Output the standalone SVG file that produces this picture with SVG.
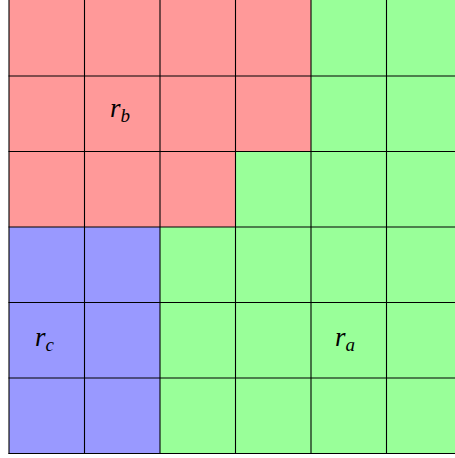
<svg xmlns="http://www.w3.org/2000/svg" width="455" height="458" viewBox="0 0 455 458">
<style>
.red{fill:#ff9999}
.green{fill:#99ff99}
.blue{fill:#9999ff}
.grid line{stroke:#000;stroke-width:1.1}
.lbl{font-family:"Liberation Serif",serif;font-style:italic;font-size:27px;fill:#000}
.sub{font-size:19px}
</style>
<rect width="455" height="458" fill="#fff"/>
<g id="region-b">
<path class="red" d="M9,-1 H311 V151.5 H235.5 V227 H9 Z"/>
<text class="lbl" x="110" y="117">r<tspan class="sub" dy="5">b</tspan></text>
</g>
<g id="region-c">
<path class="blue" d="M9,227 H160 V453.5 H9 Z"/>
<text class="lbl" x="35" y="346">r<tspan class="sub" dy="5">c</tspan></text>
</g>
<g id="region-a">
<path class="green" d="M311,-1 H462 V453.5 H160 V227 H235.5 V151.5 H311 Z"/>
<text class="lbl" x="335" y="346">r<tspan class="sub" dy="5">a</tspan></text>
</g>
<g id="grid" class="grid">
<line x1="9" y1="-1" x2="9" y2="454"/>
<line x1="84.5" y1="-1" x2="84.5" y2="454"/>
<line x1="160" y1="-1" x2="160" y2="454"/>
<line x1="235.5" y1="-1" x2="235.5" y2="454"/>
<line x1="311" y1="-1" x2="311" y2="454"/>
<line x1="386.5" y1="-1" x2="386.5" y2="454"/>
<line x1="8.5" y1="76" x2="462" y2="76"/>
<line x1="8.5" y1="151.5" x2="462" y2="151.5"/>
<line x1="8.5" y1="227" x2="462" y2="227"/>
<line x1="8.5" y1="302.5" x2="462" y2="302.5"/>
<line x1="8.5" y1="378" x2="462" y2="378"/>
<line x1="8.5" y1="453.5" x2="462" y2="453.5"/>
</g>
</svg>
